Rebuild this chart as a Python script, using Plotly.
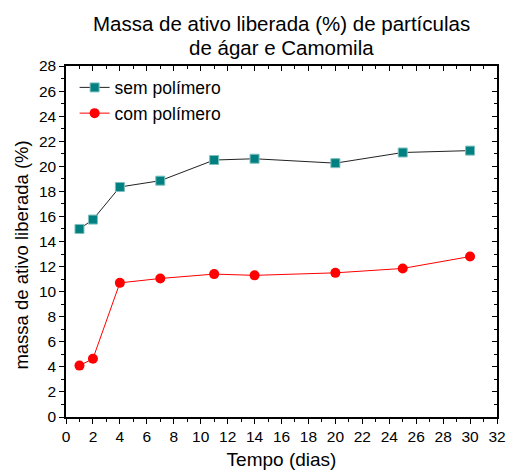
import plotly.graph_objects as go

# Release time (days)
dias = [1, 2, 4, 7, 11, 14, 20, 25, 30]
# Released active mass (%)
sem_polimero = [15.0, 15.75, 18.35, 18.85, 20.5, 20.6, 20.25, 21.1, 21.25]
com_polimero = [4.1, 4.65, 10.7, 11.05, 11.4, 11.3, 11.5, 11.85, 12.8]

titulo_linhas = ["Massa de ativo liberada (%) de partículas", "de ágar e Camomila"]
rotulo_y = "massa de ativo liberada (%)"
rotulo_x = "Tempo (dias)"
FONT = "Liberation Sans, Arial, sans-serif"

fig = go.Figure()
fig.add_trace(go.Scatter(
    x=dias, y=sem_polimero, name="sem polímero", mode="lines+markers",
    line=dict(color="#222222", width=1),
    marker=dict(symbol="square", size=9, color="#008080",
                line=dict(color="#7fbfbf", width=1)),
))
fig.add_trace(go.Scatter(
    x=dias, y=com_polimero, name="com polímero", mode="lines+markers",
    line=dict(color="#ff0000", width=1),
    marker=dict(symbol="circle", size=10, color="#ff0000",
                line=dict(color="#ff0000", width=0)),
))
# companion trace so the top and right frame axes are drawn
fig.add_trace(go.Scatter(x=[None], y=[None], xaxis="x2", yaxis="y2",
                         showlegend=False, hoverinfo="skip"))

axis_common = dict(showgrid=False, zeroline=False, showline=True, automargin=False,
                   linecolor="black", linewidth=1.5, tickcolor="black",
                   tickwidth=1, tickfont=dict(family=FONT, size=15.5, color="black"))

# two-line title, one annotation per line
titulo_y = [1.1197, 1.0541]
anotacoes = [dict(text=t, xref="paper", yref="paper", x=0.5, y=yy,
                  xanchor="center", yanchor="middle", showarrow=False,
                  font=dict(family=FONT, size=20.5, color="black"))
             for t, yy in zip(titulo_linhas, titulo_y)]
# vertical y-axis label
anotacoes.append(dict(text=rotulo_y, xref="paper", yref="paper", x=-0.102, y=0.46,
                      xanchor="center", yanchor="middle", textangle=-90, showarrow=False,
                      font=dict(family=FONT, size=18.5, color="black")))

fig.update_layout(
    width=509, height=474,
    margin=dict(l=66, r=12, t=66, b=57),
    paper_bgcolor="white", plot_bgcolor="white",
    font=dict(family=FONT, color="black"),
    annotations=anotacoes,
    xaxis=dict(range=[0, 32], tick0=0, dtick=2, ticks="outside", ticklen=5,
               minor=dict(dtick=1, ticks="outside", ticklen=3, tickcolor="black"),
               title=dict(text=rotulo_x, font=dict(family=FONT, size=19), standoff=8),
               **axis_common),
    yaxis=dict(range=[0, 28], tick0=0, dtick=2, ticks="outside", ticklen=5,
               minor=dict(dtick=1, ticks="outside", ticklen=3, tickcolor="black"),
               **axis_common),
    xaxis2=dict(range=[0, 32], overlaying="x", side="top", anchor="y",
                tick0=0, dtick=2, ticks="inside", ticklen=5, showticklabels=False,
                minor=dict(dtick=1, ticks="inside", ticklen=3, tickcolor="black"),
                **axis_common),
    yaxis2=dict(range=[0, 28], overlaying="y", side="right", anchor="x",
                tick0=0, dtick=2, ticks="inside", ticklen=5, showticklabels=False,
                minor=dict(dtick=1, ticks="inside", ticklen=3, tickcolor="black"),
                **axis_common),
    legend=dict(x=0.02, y=0.99, xanchor="left", yanchor="top",
                bgcolor="rgba(0,0,0,0)", tracegroupgap=0,
                font=dict(family=FONT, size=17.5, color="black")),
    showlegend=True,
)

fig.write_html("out.html")
